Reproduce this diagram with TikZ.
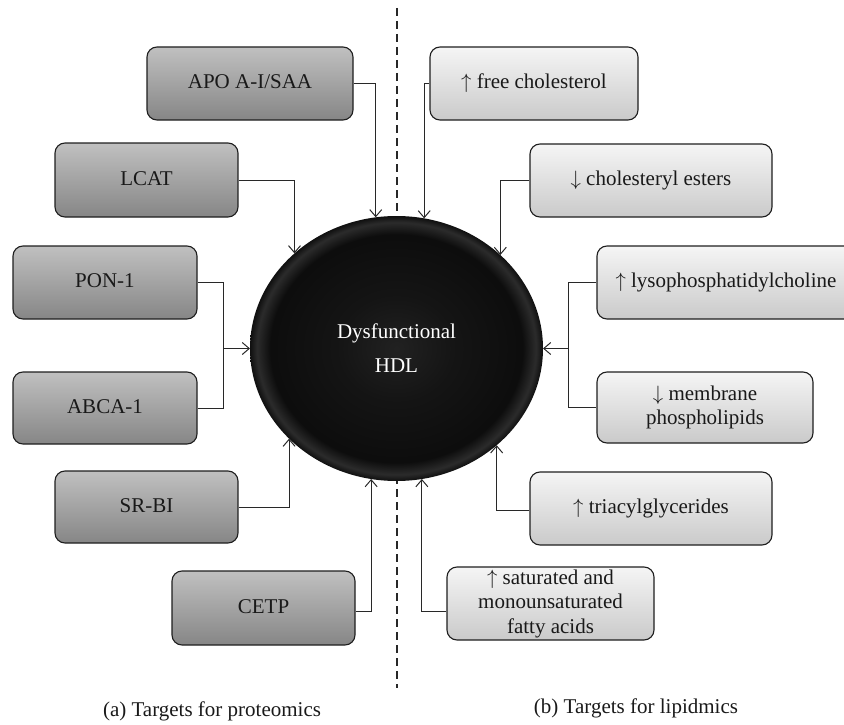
\documentclass[tikz,border=0pt]{standalone}
\usepackage{fontspec}
\setmainfont{Liberation Serif}
\usetikzlibrary{arrows.meta,shapes.geometric}
\definecolor{ltop}{RGB}{192,192,192}
\definecolor{lbot}{RGB}{134,134,134}
\definecolor{rtop}{RGB}{245,245,245}
\definecolor{rbot}{RGB}{202,202,202}
\definecolor{edgec}{RGB}{30,30,30}
\definecolor{wirec}{RGB}{40,40,40}
\newcommand{\upar}{$\uparrow$}
\newcommand{\dnar}{$\downarrow$}
\pgfdeclareradialshading{hdlshade}{\pgfpoint{0bp}{0bp}}{color(0bp)=(black!87); color(10bp)=(black!92); color(21.5bp)=(black!95); color(23.8bp)=(black!83); color(25bp)=(black!94); color(50bp)=(black!94)}
\begin{document}
\begin{tikzpicture}[x=1pt,y=-1pt,
  txt/.style={font=\fontsize{21}{24.5}\selectfont, text=black!90},
  pbox/.style={txt, draw=edgec, line width=1.1pt, rounded corners=10pt,
    top color=ltop, bottom color=lbot, inner sep=0pt, text height=1em, text depth=0pt},
  lbox/.style={txt, draw=edgec, line width=1.1pt, rounded corners=10pt,
    top color=rtop, bottom color=rbot, inner sep=0pt, align=center},
  wire/.style={draw=wirec, line width=1pt},
  arr/.style={wire, -{Straight Barb[length=7pt,width=12pt]}},
  divider/.style={draw=wirec, line width=1.1pt, dash pattern=on 8pt off 5pt},
]
\useasboundingbox (0,0) rectangle (844,725);

% dividing dashed line
\coordinate (dtop) at (397,8);
\coordinate (dbot) at (397,688);
\draw[divider] (dtop) -- (dbot);

% central node
\node[ellipse, minimum width=293pt, minimum height=265pt, inner sep=0pt, outer sep=0pt,
      shade, shading=hdlshade, txt, text=white, align=center] (hdl) at (396.5,348.5)
      {Dysfunctional\\[9.5pt]HDL};

% proteomics targets
\node[pbox, minimum width=206pt, minimum height=73pt] (apo)  at (250,83.5)  {APO A-I/SAA};
\node[pbox, minimum width=183pt, minimum height=74pt] (lcat) at (146.5,180) {LCAT};
\node[pbox, minimum width=184pt, minimum height=73pt] (pon)  at (105,282.5) {PON-1};
\node[pbox, minimum width=184pt, minimum height=72pt] (abca) at (105,408)   {ABCA-1};
\node[pbox, minimum width=183pt, minimum height=72pt] (srbi) at (146.5,507) {SR-BI};
\node[pbox, minimum width=183pt, minimum height=74pt] (cetp) at (263.5,608) {CETP};

% lipidomics targets
\node[lbox, minimum width=208pt, minimum height=73pt] (free)  at (534,83.5)   {\upar{} free cholesterol};
\node[lbox, minimum width=242pt, minimum height=73pt] (ester) at (651,180.5)  {\dnar{} cholesteryl esters};
\node[lbox, minimum width=258pt, minimum height=73pt] (lyso)  at (726,282.5)  {\upar{} lysophosphatidylcholine};
\node[lbox, minimum width=216pt, minimum height=71pt] (memb)  at (705,407.5)  {\dnar{} membrane\\phospholipids};
\node[lbox, minimum width=242pt, minimum height=73pt] (tri)   at (651,508.5)  {\upar{} triacylglycerides};
\node[lbox, minimum width=207pt, minimum height=73pt] (fatty) at (550.5,603.5){\upar{} saturated and\\monounsaturated\\fatty acids};

% connectors, left
\draw[arr] (apo.east) -| (hdl.99.3);
\draw[arr] (lcat.east) -| (hdl.137.8);
\coordinate (lj) at ([xshift=26pt]pon.east);
\draw[wire] (pon.east) -- (lj) |- (abca.east);
\draw[arr] (lj |- hdl.west) -- (hdl.west);
\draw[arr] (srbi.east) -| (hdl.220.5);
\draw[arr] ([yshift=-3.5pt]cetp.east) -| (hdl.259.8);

% connectors, right
\draw[arr] (free.west) -| (hdl.78.9);
\draw[arr] (ester.west) -| (hdl.42.2);
\coordinate (rj) at ([xshift=-28pt]lyso.west);
\draw[wire] (lyso.west) -- (rj) |- (memb.west);
\draw[arr] (rj |- hdl.east) -- (hdl.east);
\draw[arr] ([yshift=-2pt]tri.west) -| (hdl.316.7);
\draw[arr] ([yshift=-8pt]fatty.west) -| (hdl.281.1);

% captions
\node[txt] (capa) at (212,711) {(a) Targets for proteomics};
\node[txt] (capb) at (636,708) {(b) Targets for lipidmics};
\end{tikzpicture}
\end{document}
